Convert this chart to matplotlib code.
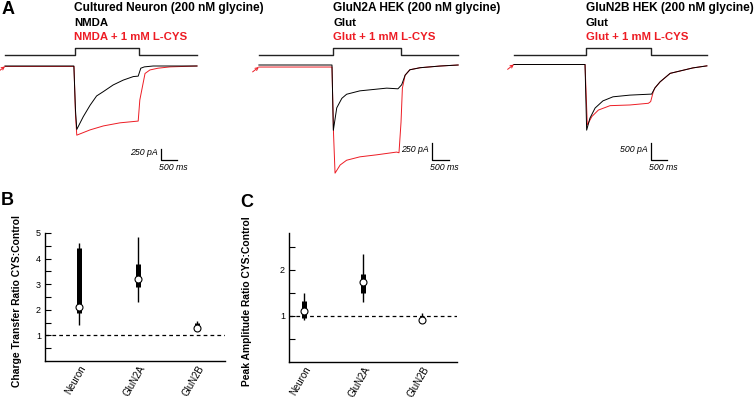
import numpy as np
import matplotlib
matplotlib.use("Agg")
import matplotlib.pyplot as plt
from matplotlib.transforms import blended_transform_factory

plt.rcParams['font.family'] = ['Liberation Sans', 'DejaVu Sans']

RED = '#ed1c24'
W, H = 755, 400

# ---- panel A: whole-cell currents (time in ms from agonist onset, current in pA)
stim_on, stim_off = 0, 2000

neuron_ctrl_t = [-2140, -20, 30, 70, 270, 480, 680, 890, 1190, 1500, 1810, 1960, 2040, 2150, 2420, 2940, 3770]
neuron_ctrl_i = [0, 0, -1000, -1440, -1150, -890, -680, -580, -430, -320, -240, -230, -50, -20, 0, 0, 0]
neuron_cys_t = [-2140, -15, 30, 70, 480, 890, 1400, 1960, 2010, 2170, 2320, 2570, 2940, 3770]
neuron_cys_i = [-10, -10, -1100, -1570, -1450, -1360, -1290, -1250, -770, -170, -90, -50, -20, 0]

n2a_ctrl_t = [-2180, -30, 10, 110, 260, 400, 790, 1580, 1910, 2020, 2120, 2260, 2560, 3150, 3680]
n2a_ctrl_i = [0, 0, -960, -630, -490, -430, -380, -340, -350, -290, -150, -70, -40, -15, 0]
n2a_cys_t = [-2180, -30, 15, 60, 210, 400, 790, 1290, 1870, 1940, 2000, 2040, 2120, 2260, 2560, 3150, 3680]
n2a_cys_i = [-30, -30, -1000, -1590, -1470, -1400, -1350, -1320, -1280, -1290, -840, -340, -150, -70, -40, -15, 0]

n2b_ctrl_t = [-2220, -30, 20, 120, 280, 520, 830, 1350, 2020, 2120, 2280, 2590, 3290, 3720]
n2b_ctrl_i = [0, 0, -1930, -1580, -1280, -1070, -950, -900, -870, -690, -510, -260, -100, -40]
n2b_cys_t = [-2220, -30, 40, 180, 380, 740, 1350, 1920, 1990, 2070, 2120, 2280, 2590, 3290, 3720]
n2b_cys_i = [0, 0, -1780, -1530, -1340, -1210, -1190, -1140, -1090, -800, -690, -510, -260, -100, -40]

titles = ['Cultured Neuron (200 nM glycine)', 'GluN2A HEK (200 nM glycine)', 'GluN2B HEK (200 nM glycine)']
ctrl_names = ['NMDA', 'Glut', 'Glut']
cys_names = ['NMDA + 1 mM L-CYS', 'Glut + 1 mM L-CYS', 'Glut + 1 mM L-CYS']
scale_pa = [250, 250, 500]
scale_ms = 500

# ---- panels B/C: ratio summaries
categories = ['Neuron', 'GluN2A', 'GluN2B']
charge_whisk_lo = [1.42, 2.3, 1.3]
charge_whisk_hi = [4.6, 4.85, 1.58]
charge_box_lo = [1.87, 2.9, 1.42]
charge_box_hi = [4.4, 3.8, 1.48]
charge_median = [2.1, 3.22, 1.3]

peak_whisk_lo = [0.92, 1.3, 0.9]
peak_whisk_hi = [1.5, 2.35, 1.06]
peak_box_lo = [0.95, 1.5, 0.96]
peak_box_hi = [1.33, 1.9, 1.0]
peak_median = [1.1, 1.73, 0.91]


fig = plt.figure(figsize=(W / 100, H / 100), dpi=100)


def px_axes(x0, x1, y0, y1):
    return fig.add_axes([x0 / W, 1 - y1 / H, (x1 - x0) / W, (y1 - y0) / H])


def trace_panel(k, x0, x1, onset_px, base_px, ms_px, pa_px, ctrl, cys, bar_corner):
    y0, y1 = 40, 185
    ax = px_axes(x0, x1, y0, y1)
    ax.set_xlim((x0 - onset_px) * ms_px, (x1 - onset_px) * ms_px)
    ax.set_ylim(-(y1 - base_px) * pa_px, -(y0 - base_px) * pa_px)
    ax.axis('off')

    # agonist application step
    tr = blended_transform_factory(ax.transData, ax.transAxes)
    lo, hi = (y1 - 54.5) / (y1 - y0), (y1 - 47.5) / (y1 - y0)
    t_first, t_last = ctrl[0][0], ctrl[0][-1]
    ax.plot([t_first, stim_on, stim_on, stim_off, stim_off, t_last],
            [lo, lo, hi, hi, lo, lo], color='#222222', lw=1.0, transform=tr)

    ax.plot(cys[0], cys[1], color=RED, lw=0.7)
    ax.plot(ctrl[0], ctrl[1], color='black', lw=0.7)
    ax.annotate('', xy=(cys[0][0], cys[1][0]), xytext=(-4.5, -3.5), textcoords='offset points',
                arrowprops=dict(arrowstyle='->', color=RED, lw=0.7, shrinkA=0, shrinkB=0,
                                mutation_scale=5))

    # scale bar
    ct, ci = bar_corner
    ax.plot([ct, ct, ct + scale_ms], [ci + scale_pa[k], ci, ci], color='black', lw=0.9,
            clip_on=False)
    ax.annotate(f'{scale_pa[k]} pA', xy=(ct, ci + 0.65 * scale_pa[k]), xytext=(-2, 0),
                textcoords='offset points', ha='right', va='center', fontsize=6.3,
                style='italic', annotation_clip=False)
    ax.annotate(f'{scale_ms} ms', xy=(ct + scale_ms / 2, ci), xytext=(3, -2),
                textcoords='offset points', ha='center', va='top', fontsize=6.3,
                style='italic', annotation_clip=False)

    fig.text(onset_px / W, 1 - 8 / H, titles[k], ha='left', va='center', fontsize=8.6,
             fontweight='bold')
    fig.text(onset_px / W, 1 - 23 / H, ctrl_names[k], ha='left', va='center', fontsize=8.2,
             fontweight='bold')
    fig.text(onset_px / W, 1 - 37 / H, cys_names[k], ha='left', va='center', fontsize=8.2,
             fontweight='bold', color=RED)


trace_panel(0, 0, 205, 74.5, 66, 30.77, 22.7, (neuron_ctrl_t, neuron_ctrl_i),
            (neuron_cys_t, neuron_cys_i), (2660, -2130))
trace_panel(1, 250, 462, 333, 65, 29.4, 14.7, (n2a_ctrl_t, n2a_ctrl_i),
            (n2a_cys_t, n2a_cys_i), (2910, -1400))
trace_panel(2, 505, 712, 586, 64.5, 30.77, 29.4, (n2b_ctrl_t, n2b_ctrl_i),
            (n2b_cys_t, n2b_cys_i), (2000, -2810))


def ratio_panel(x0, x1, y0, y1, xlim, ylim, major, minor, wlo, whi, blo, bhi, med, ylabel, label_x):
    ax = px_axes(x0, x1, y0, y1)
    xs = np.arange(len(categories))
    ax.axhline(1, color='black', lw=0.9, ls=(0, (3, 2.5)), zorder=1)
    ax.vlines(xs, wlo, whi, color='black', lw=1.0, zorder=2)
    ax.vlines(xs, blo, bhi, color='black', lw=3.6, zorder=3)
    ax.plot(xs, med, 'o', ms=5, mfc='white', mec='black', mew=0.8, zorder=4)
    ax.set_xlim(*xlim)
    ax.set_ylim(*ylim)
    ax.set_yticks(major)
    ax.set_yticks(minor, minor=True)
    ax.tick_params(axis='y', which='both', direction='in', length=4, width=0.8, pad=3,
                   labelsize=6.5)
    ax.set_xticks(xs)
    ax.set_xticklabels(categories, rotation=60, ha='right', rotation_mode='anchor', fontsize=7)
    ax.tick_params(axis='x', length=0, pad=2)
    for s in ['top', 'right']:
        ax.spines[s].set_visible(False)
    for s in ['left', 'bottom']:
        ax.spines[s].set_linewidth(1.0)
    ax.set_ylabel(ylabel, fontsize=7.4, fontweight='bold')
    ax.yaxis.set_label_coords(label_x, 0.47)
    return ax


ratio_panel(45, 225, 233, 361, (-0.576, 2.47), (0, 5), [1, 2, 3, 4, 5], [0.5, 1.5, 2.5, 3.5, 4.5],
            charge_whisk_lo, charge_whisk_hi, charge_box_lo, charge_box_hi, charge_median,
            'Charge Transfer Ratio CYS:Control', -0.128)
ratio_panel(289, 457, 233, 362, (-0.254, 2.59), (0, 2.8), [1, 2], [0.5, 1.5, 2.5],
            peak_whisk_lo, peak_whisk_hi, peak_box_lo, peak_box_hi, peak_median,
            'Peak Amplitude Ratio CYS:Control', -0.22)

fig.text(2 / W, 1 - 1 / H, 'A', ha='left', va='top', fontsize=13, fontweight='bold')
fig.text(1 / W, 1 - 192 / H, 'B', ha='left', va='top', fontsize=13, fontweight='bold')
fig.text(240 / W, 1 - 194 / H, 'C', ha='left', va='top', fontsize=13, fontweight='bold')

fig.savefig('out.png', dpi=100)
